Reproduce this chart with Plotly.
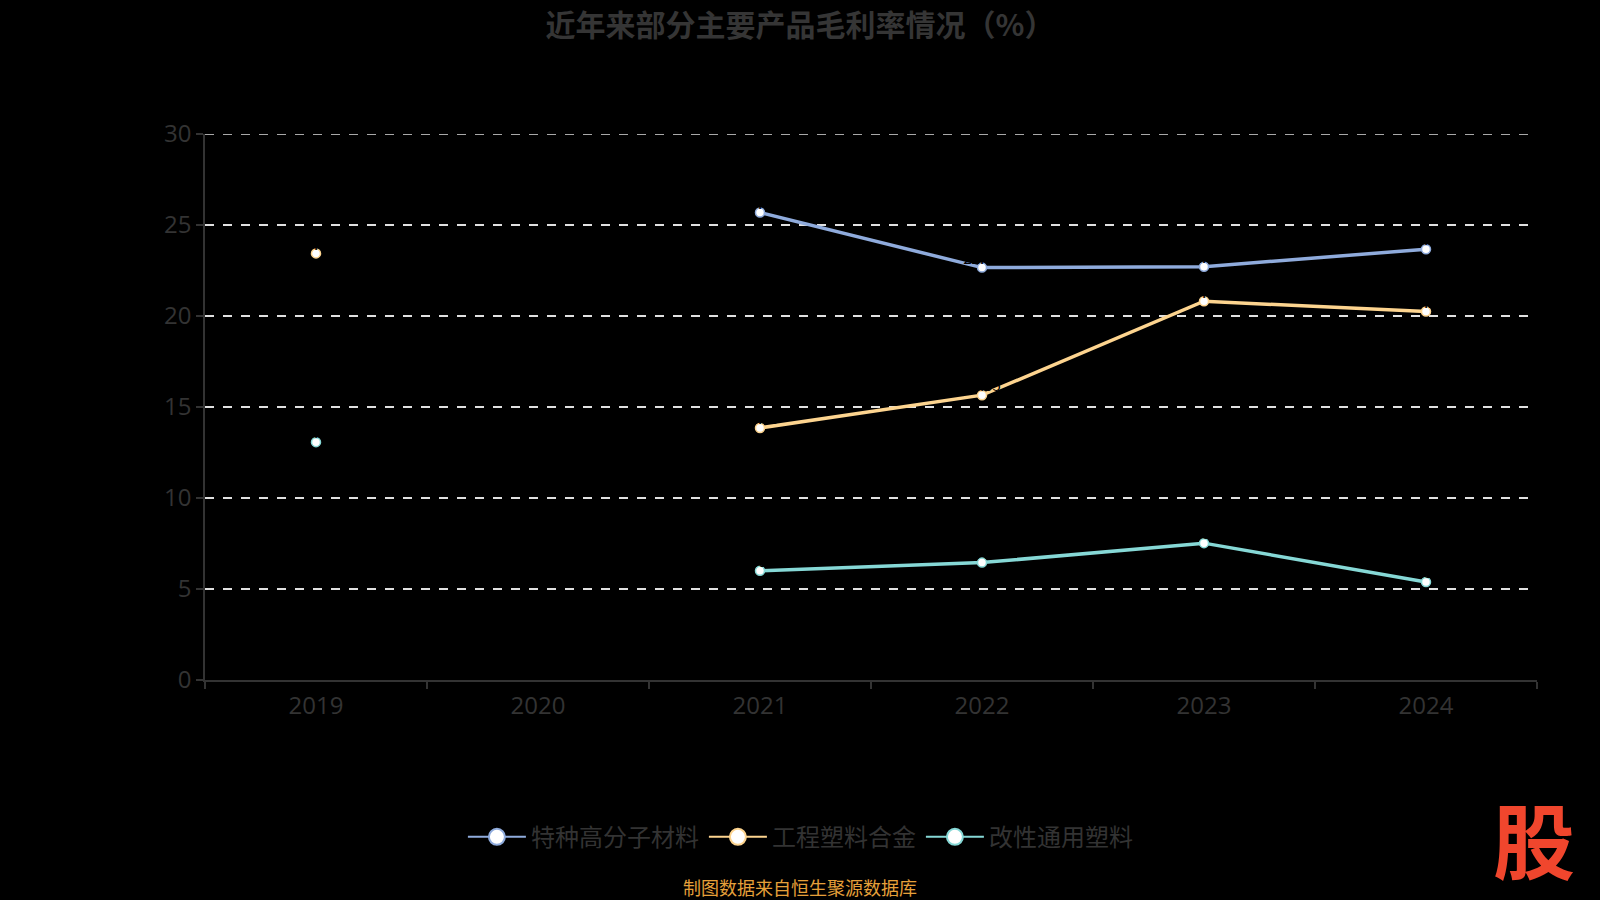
import plotly.graph_objects as go

years = ["2019", "2020", "2021", "2022", "2023", "2024"]
special_polymer = [None, None, 25.69, 22.66, 22.71, 23.67]
eng_plastic_alloy = [23.44, None, 13.85, 15.65, 20.81, 20.25]
modified_plastic = [13.07, None, 6.00, 6.45, 7.52, 5.38]
series_names = ["特种高分子材料", "工程塑料合金", "改性通用塑料"]
series_colors = ["#8fabdc", "#fdd48f", "#86d8d6"]
series_values = [special_polymer, eng_plastic_alloy, modified_plastic]
y_ticks = [0, 5, 10, 15, 20, 25, 30]

FONT = "Noto Sans CJK SC"
NUMFONT = "Open Sans"
fig = go.Figure()

for name, color, vals in zip(series_names, series_colors, series_values):
    fig.add_trace(go.Scatter(
        x=years, y=vals, name=name, mode="lines+markers", showlegend=False,
        line=dict(color=color, width=3.5),
        marker=dict(symbol="circle", size=9, color="#ffffff",
                    line=dict(color=color, width=1.5)),
        connectgaps=False,
    ))
# legend entries with larger symbols
for name, color in zip(series_names, series_colors):
    fig.add_trace(go.Scatter(
        x=[None], y=[None], name=name, mode="lines+markers",
        line=dict(color=color, width=2),
        marker=dict(symbol="circle", size=16, color="#ffffff",
                    line=dict(color=color, width=2)),
    ))
# data labels drawn in black (as in the reference: invisible on black)
for name, vals in zip(series_names, series_values):
    fig.add_trace(go.Scatter(
        x=years, y=vals, mode="text", showlegend=False, hoverinfo="skip",
        text=[("%.2f" % v) if v is not None else "" for v in vals],
        textposition="top center",
        textfont=dict(color="#000000", size=15, family=FONT),
    ))

fig.update_layout(
    width=1600, height=900,
    paper_bgcolor="#000000", plot_bgcolor="#000000",
    margin=dict(l=205, r=63, t=134, b=220),
    font=dict(family=FONT, color="#333333"),
    title=dict(text="<b>近年来部分主要产品毛利率情况（%）</b>",
               x=0.5, xanchor="center", y=0.972, yanchor="middle",
               font=dict(size=30, color="#353535", family=FONT)),
    showlegend=True,
    legend=dict(orientation="h", x=0.447, xanchor="center", y=-0.288, yanchor="middle",
                font=dict(size=24, color="#333333", family=FONT),
                itemsizing="trace", bgcolor="rgba(0,0,0,0)", itemwidth=58),
    xaxis=dict(type="category", categoryorder="array", categoryarray=years,
               range=[-0.5, 5.5], tickson="boundaries",
               showline=True, linecolor="#333333", linewidth=1.5,
               ticks="outside", ticklen=7, tickcolor="#333333", tickwidth=1.5,
               showgrid=False, zeroline=False, ticklabelstandoff=3,
               tickfont=dict(size=24, color="#333333", family=NUMFONT)),
    yaxis=dict(range=[0, 30], tickvals=y_ticks,
               showline=True, linecolor="#333333", linewidth=1.5,
               ticks="outside", ticklen=7, tickcolor="#333333", tickwidth=1.5,
               showgrid=True, gridcolor="#e0e0e0", griddash="dash", gridwidth=1.5,
               zeroline=False,
               tickfont=dict(size=24, color="#333333", family=NUMFONT)),
    shapes=[dict(type="line", xref="paper", yref="y", x0=0, x1=1,
                 y0=max(y_ticks), y1=max(y_ticks),
                 line=dict(color="#e0e0e0", width=1.5, dash="dash"), layer="below")],
    annotations=[
        dict(text="制图数据来自恒生聚源数据库", xref="paper", yref="paper",
             x=0.447, y=-0.38, xanchor="center", yanchor="middle", showarrow=False,
             font=dict(size=18, color="#e6a03a", family=FONT)),
        dict(text="<b>股</b>", xref="paper", yref="paper",
             x=0.998, y=-0.289, xanchor="center", yanchor="middle", showarrow=False,
             font=dict(size=82, color="#f0462d", family=FONT)),
    ],
)

fig.write_html("out.html", config={"displayModeBar": False},
               post_script="document.body.style.margin='0';document.body.style.background='#000';")
